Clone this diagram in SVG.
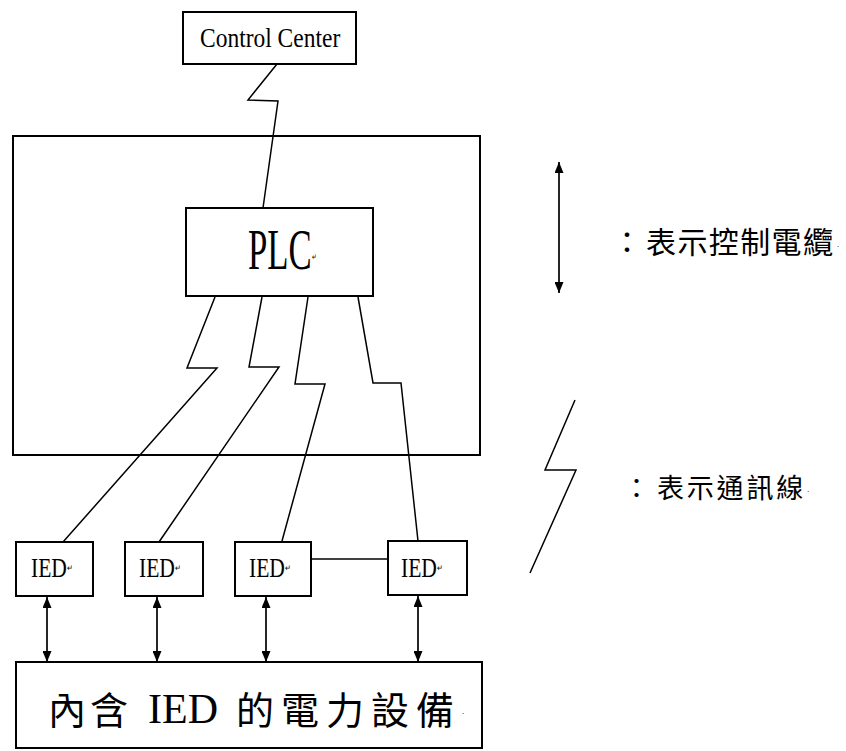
<svg xmlns="http://www.w3.org/2000/svg" width="846" height="751" viewBox="0 0 846 751">
<style>
.box{fill:#fff;stroke:#000;stroke-width:2}
.frame{fill:none;stroke:#000;stroke-width:2}
.ln{fill:none;stroke:#000;stroke-width:1.5;stroke-linejoin:miter}
.arr{fill:none;stroke:#000;stroke-width:1.7;marker-start:url(#ah);marker-end:url(#ah)}
.lat{font-family:"Liberation Serif","Times New Roman",serif;fill:#000}
.cjk{font-family:"Noto Sans CJK TC","Noto Sans CJK SC",sans-serif;fill:#000}
.mk{font-family:"Liberation Serif",serif;font-size:9px}
</style>
<defs>
<marker id="ah" viewBox="0 0 11 9" refX="11" refY="4.5" markerWidth="11" markerHeight="9" markerUnits="userSpaceOnUse" orient="auto-start-reverse">
<path d="M0,0 L11,4.5 L0,9 Z" fill="#000"/>
</marker>
</defs>
<rect width="846" height="751" fill="#fff"/>

<g id="substation-frame">
<rect class="frame" x="13" y="136" width="467" height="319"/>
</g>

<g id="connectors">
<polyline class="ln" points="277,64 248,100 278,101 263,208"/>
<polyline class="ln" points="215,297 187,368 217,368 63,542"/>
<polyline class="ln" points="262,297 249,367 279,367 159,542"/>
<polyline class="ln" points="308,297 295,384 325,384 282,541"/>
<polyline class="ln" points="358,297 373,383 401,383 418,541"/>
<line class="ln" x1="311" y1="559" x2="388" y2="559"/>
<line class="arr" x1="47" y1="597" x2="47" y2="662"/>
<line class="arr" x1="157" y1="597" x2="157" y2="662"/>
<line class="arr" x1="266" y1="597" x2="266" y2="662"/>
<line class="arr" x1="418" y1="596" x2="418" y2="662"/>
</g>

<g id="control-center">
<rect class="box" x="183" y="12" width="173" height="52"/>
<text class="lat" font-size="27" transform="translate(200,47) scale(0.87,1)">Control Center</text>
</g>

<g id="plc">
<rect class="box" x="186" y="208" width="187" height="88"/>
<text class="lat" font-size="56" transform="translate(248,269) scale(0.62,1)">PLC<tspan class="mk" font-size="14" dy="-9">↵</tspan></text>
</g>

<g id="ied1">
<rect class="box" x="16" y="542" width="77" height="54"/>
<text class="lat" font-size="28" transform="translate(31,577) scale(0.77,1)">IED<tspan class="mk" font-size="11" dy="-6">↵</tspan></text>
</g>
<g id="ied2">
<rect class="box" x="125" y="542" width="78" height="54"/>
<text class="lat" font-size="28" transform="translate(139,577) scale(0.77,1)">IED<tspan class="mk" font-size="11" dy="-6">↵</tspan></text>
</g>
<g id="ied3">
<rect class="box" x="235" y="542" width="76" height="54"/>
<text class="lat" font-size="28" transform="translate(249,577) scale(0.77,1)">IED<tspan class="mk" font-size="11" dy="-6">↵</tspan></text>
</g>
<g id="ied4">
<rect class="box" x="388" y="541" width="79" height="54"/>
<text class="lat" font-size="28" transform="translate(401,577) scale(0.77,1)">IED<tspan class="mk" font-size="11" dy="-6">↵</tspan></text>
</g>

<g id="power-equipment">
<rect class="box" x="16" y="662" width="466" height="86"/>
<text class="cjk" font-size="38" y="724"><tspan x="48">內</tspan><tspan x="90">含</tspan><tspan class="lat" x="148" font-size="42" dy="-1">IED</tspan><tspan x="236" dy="1">的</tspan><tspan x="281">電</tspan><tspan x="326">力</tspan><tspan x="371">設</tspan><tspan x="416">備</tspan><tspan class="mk" x="462" dy="-10">.</tspan></text>
</g>

<g id="legend-cable">
<line class="arr" x1="559" y1="162" x2="559" y2="293"/>
<text class="cjk" font-size="30" y="253"><tspan x="612">：</tspan><tspan x="646" letter-spacing="1.4">表示控制電纜</tspan><tspan class="mk" x="837" dy="-6">.</tspan></text>
</g>

<g id="legend-comm">
<polyline class="ln" points="575,400 545,470 576,470 530,573"/>
<text class="cjk" font-size="27" y="498"><tspan x="623">：</tspan><tspan x="657" letter-spacing="2.8">表示通訊線</tspan><tspan class="mk" x="807" dy="-6">.</tspan></text>
</g>
</svg>
